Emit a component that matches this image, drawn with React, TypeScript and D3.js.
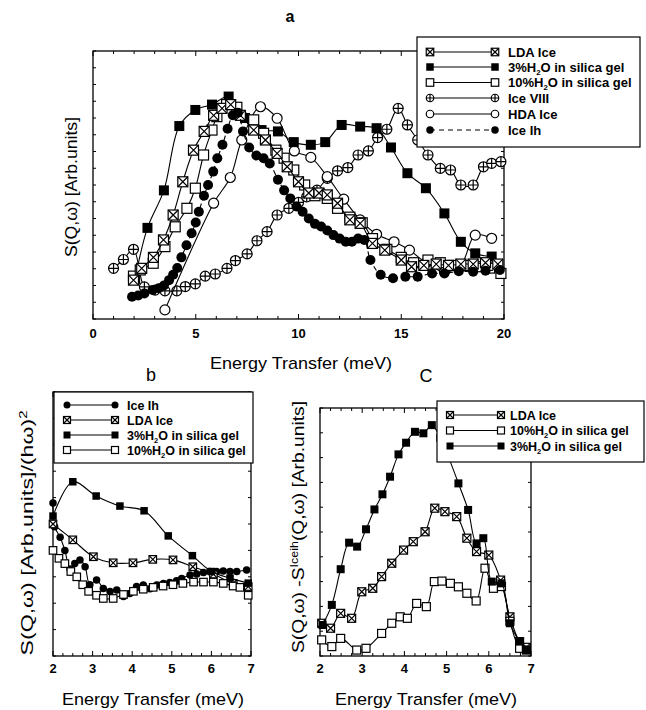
import React from 'react';
import * as d3 from 'd3';

const FONT = '"Liberation Sans", Arial, Helvetica, sans-serif';

type Pt = [number, number];

// ---------- Panel a (x: Energy transfer meV, y: arbitrary units 0..100) ----------
const A_X_TICKS = [0, 5, 10, 15, 20];
const A_3PCT: Pt[] = [[2.05, 15], [2.65, 34], [3.45, 48], [4.2, 72], [4.98, 78], [5.79, 80], [6.6, 83], [7.4, 75], [8.2, 70.5], [9.0, 70], [9.77, 66], [10.6, 65], [11.3, 66], [12.1, 72.4], [13.0, 71.8], [13.8, 71.2], [14.5, 64], [15.3, 54.4], [16.2, 48.8], [17.1, 39.4], [17.9, 28.8], [18.6, 24.5], [19.4, 23.3]];
const A_LDA: Pt[] = [[1.97, 14.5], [2.37, 18.9], [2.94, 23], [3.43, 29.5], [3.9, 38.8], [4.37, 51.2], [4.89, 63], [5.41, 70], [5.87, 76], [6.28, 78.6], [6.7, 80], [7.17, 76], [7.82, 70.5], [8.39, 66.8], [8.96, 61.8], [9.45, 56.8], [10.0, 51.2], [10.5, 47], [11.0, 47], [11.4, 46.3], [11.9, 43.2], [12.5, 37], [13.0, 35.7], [13.6, 28.2], [14.2, 25.7], [15.0, 22], [15.5, 19.5], [16.1, 20], [16.7, 20.5], [17.3, 20], [17.9, 20.5], [18.5, 20.5], [19.1, 21], [19.7, 20.5]];
const A_10PCT: Pt[] = [[1.97, 16], [2.3, 18.3], [2.93, 20.8], [3.5, 27], [4.0, 34.4], [4.57, 41.3], [4.98, 48.8], [5.38, 61.2], [5.79, 70.5], [6.03, 75.5], [6.5, 80], [7.0, 79], [7.82, 74.3], [8.3, 69.3], [8.9, 63], [9.3, 60], [9.77, 55.6], [10.3, 50], [10.8, 46], [11.4, 45], [11.9, 41.3], [12.5, 38], [13.1, 35.9], [13.6, 30], [14.3, 26], [15.0, 23], [15.6, 21], [16.3, 22], [16.9, 21], [17.5, 20], [18.1, 20], [18.7, 19.5], [19.3, 19], [19.85, 17]];
const A_VIII: Pt[] = [[1.0, 18.9], [1.48, 22.2], [1.97, 26], [2.5, 12], [3.02, 10.8], [3.5, 10.5], [4.08, 10.5], [4.49, 12.1], [4.98, 13.1], [5.46, 16], [5.95, 16.8], [6.52, 18.9], [6.93, 21.8], [7.5, 24.3], [7.98, 29.2], [8.47, 32.6], [8.96, 38.8], [9.53, 41.3], [10.0, 43.5], [10.4, 45.6], [10.9, 48.1], [11.4, 52.5], [11.9, 55.3], [12.4, 56.5], [12.9, 61.2], [13.4, 62.7], [13.85, 67.7], [14.3, 70.8], [14.85, 78.6], [15.3, 72.4], [15.8, 66.8], [16.3, 61.2], [16.9, 56.2], [17.4, 55.6], [17.9, 50], [18.5, 50], [19.0, 56.8], [19.4, 58.1], [19.85, 58.7]];
const A_HDA: Pt[] = [[3.5, 3.4], [5.87, 43.2], [6.68, 52.8], [7.24, 66.8], [8.15, 79.2], [8.96, 74.9], [9.8, 62.7], [10.6, 60.3], [11.4, 53.1], [12.2, 44.7], [13.0, 37], [13.8, 31.6], [14.65, 28.8], [15.4, 25.7], [16.2, 21], [17.1, 17.6], [17.9, 20.1], [18.6, 31.3], [19.4, 30.1]];
const A_IH: Pt[] = [[1.9, 8.3], [2.2, 8.8], [2.5, 9.5], [2.9, 10.8], [3.2, 11.5], [3.45, 12.5], [3.7, 14.5], [3.9, 16.5], [4.1, 19], [4.3, 23], [4.55, 27.5], [4.8, 32], [5.0, 36], [5.15, 40], [5.4, 46], [5.6, 50], [5.85, 55], [6.05, 60], [6.3, 65], [6.55, 71], [6.8, 76], [7.05, 77], [7.3, 70], [7.6, 64], [7.95, 61], [8.3, 60], [8.6, 58], [9.0, 52], [9.3, 48], [9.6, 45], [9.9, 42], [10.2, 40], [10.5, 37.5], [10.8, 35.5], [11.1, 34.5], [11.4, 33], [11.7, 31.3], [12.0, 30], [12.3, 28.8], [12.6, 28.8], [12.9, 30], [13.2, 29.5], [13.5, 22], [14.0, 16.5], [14.6, 15.2], [15.2, 15.8], [15.8, 15.8], [16.5, 17], [17.1, 17], [17.8, 17.8], [18.5, 17.6], [19.1, 18], [19.8, 18.3]];

// ---------- Panel b ----------
const BC_X_TICKS = [2, 3, 4, 5, 6, 7];
const B_IH: Pt[] = [[2.0, 58], [2.04, 49], [2.18, 45], [2.3, 40], [2.43, 33], [2.55, 35], [2.68, 36.4], [2.81, 33.8], [2.93, 27], [3.1, 28.8], [3.27, 25.6], [3.44, 24.4], [3.61, 25], [3.78, 22.5], [3.94, 23.7], [4.11, 26.3], [4.28, 26.9], [4.45, 25.5], [4.62, 26.9], [4.79, 27.5], [4.95, 27.8], [5.12, 28.5], [5.25, 29.4], [5.46, 30.7], [5.63, 31.1], [5.8, 31.6], [5.96, 32], [6.13, 32], [6.3, 32.2], [6.47, 32], [6.64, 32], [6.89, 32.6]];
const B_LDA: Pt[] = [[2.0, 50], [2.5, 44], [3.02, 37.6], [3.52, 35.3], [4.02, 35.3], [4.52, 36.6], [5.03, 36.4], [5.53, 33.8], [6.05, 31], [6.55, 27.5], [6.93, 26.3]];
const B_3PCT: Pt[] = [[2.0, 53], [2.5, 66], [3.09, 60.6], [3.69, 56.8], [4.3, 55], [4.91, 45.5], [5.52, 38], [6.0, 32], [6.47, 29.5], [6.93, 27.6]];
const B_10PCT: Pt[] = [[2.0, 40], [2.15, 37], [2.3, 35], [2.45, 32], [2.6, 30], [2.75, 27], [2.9, 24.5], [3.1, 23], [3.27, 21.8], [3.52, 21.8], [3.78, 23.3], [4.03, 24.5], [4.28, 25.3], [4.53, 26], [4.78, 26.5], [5.03, 27], [5.28, 27.5], [5.55, 28], [5.8, 28], [6.05, 28], [6.3, 27.5], [6.55, 26.5], [6.72, 26], [6.93, 23]];

// ---------- Panel c ----------
const C_LDA: Pt[] = [[2.04, 13.2], [2.25, 11.2], [2.49, 17.2], [2.75, 15.2], [2.99, 25.9], [3.25, 27.3], [3.46, 32], [3.7, 37.4], [3.98, 42.7], [4.21, 46.1], [4.49, 50.1], [4.72, 59.6], [4.96, 58.2], [5.24, 56.2], [5.48, 47.5], [5.71, 42.1], [6.0, 40.7], [6.28, 30.6], [6.5, 15.8], [6.73, 5.8], [6.89, 3.5]];
const C_10PCT: Pt[] = [[2.04, 6.5], [2.28, 3.8], [2.49, 7.1], [2.87, 2.4], [3.09, 3.1], [3.46, 9.1], [3.7, 13.2], [3.9, 15.8], [4.07, 15.2], [4.29, 21.2], [4.52, 19.9], [4.71, 30], [4.89, 30.2], [5.09, 29.3], [5.28, 27.9], [5.48, 25.3], [5.7, 22.2], [5.91, 35.4], [6.11, 27.3], [6.3, 28], [6.5, 14], [6.73, 3.1], [6.89, 2.4]];
const C_3PCT: Pt[] = [[2.06, 12.5], [2.28, 20.6], [2.49, 35], [2.69, 45.7], [2.88, 44.1], [3.09, 51.1], [3.29, 59.1], [3.48, 65.2], [3.66, 72.3], [3.86, 81.3], [4.04, 86], [4.25, 90.4], [4.45, 89.8], [4.65, 93.1], [4.85, 88], [5.05, 80], [5.28, 69.6], [5.51, 58.9], [5.71, 45.4], [5.87, 47.5], [6.07, 30], [6.3, 29.3], [6.5, 13.2], [6.73, 5.8], [6.89, 2.4]];

// series names
const N_LDA = 'LDA Ice';
const N_3 = '3%H2O in silica gel';
const N_10 = '10%H2O in silica gel';
const N_VIII = 'Ice VIII';
const N_HDA = 'HDA Ice';
const N_IH = 'Ice Ih';

type MType = 'fsq' | 'osq' | 'xsq' | 'fci' | 'oci' | 'pci';

function Marker({ t, x, y, s }: { t: MType; x: number; y: number; s: number }) {
  const h = s / 2;
  const sw = 1.2;
  if (t === 'fsq') return <rect x={x - h} y={y - h} width={s} height={s} fill="#000" />;
  if (t === 'osq') return <rect x={x - h} y={y - h} width={s} height={s} fill="#fff" stroke="#000" strokeWidth={sw} />;
  if (t === 'xsq')
    return (
      <g>
        <rect x={x - h} y={y - h} width={s} height={s} fill="#fff" stroke="#000" strokeWidth={sw} />
        <path d={`M${x - h},${y - h}L${x + h},${y + h}M${x + h},${y - h}L${x - h},${y + h}`} stroke="#000" strokeWidth={sw} />
      </g>
    );
  if (t === 'fci') return <circle cx={x} cy={y} r={h} fill="#000" />;
  if (t === 'oci') return <circle cx={x} cy={y} r={h} fill="#fff" stroke="#000" strokeWidth={sw} />;
  return (
    <g>
      <circle cx={x} cy={y} r={h} fill="#fff" stroke="#000" strokeWidth={sw} />
      <path d={`M${x - h},${y}L${x + h},${y}M${x},${y - h}L${x},${y + h}`} stroke="#000" strokeWidth={sw} />
    </g>
  );
}

type SeriesDef = { name: string; data: Pt[]; t: MType; dashed?: boolean };

function Series({ def, xs, ys, size }: { def: SeriesDef; xs: any; ys: any; size: number }) {
  const line = d3
    .line<Pt>()
    .x((d) => xs(d[0]))
    .y((d) => ys(d[1]))
    .curve(d3.curveCatmullRom.alpha(0.5));
  return (
    <g>
      <path d={line(def.data) || ''} fill="none" stroke="#000" strokeWidth={1.1} strokeDasharray={def.dashed ? '5,3' : undefined} />
      {def.data.map((d, i) => (
        <Marker key={i} t={def.t} x={xs(d[0])} y={ys(d[1])} s={size} />
      ))}
    </g>
  );
}

function Label({ name }: { name: string }) {
  const i = name.indexOf('H2O');
  if (i < 0) return <>{name}</>;
  return (
    <>
      {name.slice(0, i + 1)}
      <tspan dy={3} fontSize="0.6em">2</tspan>
      <tspan dy={-3}>{name.slice(i + 2)}</tspan>
    </>
  );
}

function Frame({ xs, ys, xTicks, xMinorStep, yStep, labelY }: { xs: any; ys: any; xTicks: number[]; xMinorStep: number; yStep: number; labelY: number }) {
  const [x0, x1] = xs.range();
  const [y0, y1] = ys.range(); // y0 bottom, y1 top
  const [d0, d1] = xs.domain();
  const minors: number[] = [];
  for (let v = d0; v <= d1 + 1e-9; v += xMinorStep) minors.push(+v.toFixed(4));
  const yt: number[] = [];
  for (let v = 0; v <= 100 + 1e-9; v += yStep) yt.push(v);
  const ticks: string[] = [];
  minors.forEach((v) => {
    const isMajor = xTicks.some((t) => Math.abs(t - v) < 1e-6);
    const L = isMajor ? 5 : 3;
    const px = xs(v);
    ticks.push(`M${px},${y0}v${-L}M${px},${y1}v${L}`);
  });
  yt.forEach((v) => {
    const py = ys(v);
    ticks.push(`M${x0},${py}h3M${x1},${py}h-3`);
  });
  return (
    <g>
      <rect x={x0} y={y1} width={x1 - x0} height={y0 - y1} fill="none" stroke="#000" strokeWidth={1.3} />
      <path d={ticks.join('')} stroke="#000" strokeWidth={1} />
      {xTicks.map((t) => (
        <text key={t} x={xs(t)} y={labelY} textAnchor="middle" fontSize={13} fontWeight="bold" fontFamily={FONT}>
          {t}
        </text>
      ))}
    </g>
  );
}

function Legend({ x, y, w, h, rows, rowY, mx0, mx1, tx, ms, fs }: { x: number; y: number; w: number; h: number; rows: SeriesDef[]; rowY: number[]; mx0: number; mx1: number; tx: number; ms: number; fs: number }) {
  return (
    <g>
      <rect x={x} y={y} width={w} height={h} fill="#fff" stroke="#000" strokeWidth={1.2} />
      {rows.map((r, i) => (
        <g key={r.name}>
          <line x1={mx0} x2={mx1} y1={rowY[i]} y2={rowY[i]} stroke="#000" strokeWidth={1} strokeDasharray={r.dashed ? '5,4' : undefined} />
          <Marker t={r.t} x={mx0} y={rowY[i]} s={ms} />
          <Marker t={r.t} x={mx1} y={rowY[i]} s={ms} />
          <text x={tx} y={rowY[i] + fs * 0.36} fontSize={fs} fontWeight="bold" fontFamily={FONT}>
            <Label name={r.name} />
          </text>
        </g>
      ))}
    </g>
  );
}

export default function App() {
  // panel a scales
  const ax = d3.scaleLinear().domain([0, 20]).range([93, 504]);
  const ay = d3.scaleLinear().domain([0, 100]).range([319, 51]);
  const aSeries: SeriesDef[] = [
    { name: N_VIII, data: A_VIII, t: 'pci' },
    { name: N_HDA, data: A_HDA, t: 'oci' },
    { name: N_3, data: A_3PCT, t: 'fsq' },
    { name: N_10, data: A_10PCT, t: 'osq' },
    { name: N_LDA, data: A_LDA, t: 'xsq' },
    { name: N_IH, data: A_IH, t: 'fci', dashed: true },
  ];
  const aLegend: SeriesDef[] = [
    aSeries[4], aSeries[2], aSeries[3], aSeries[0], aSeries[1], aSeries[5],
  ];

  // panel b
  const bx = d3.scaleLinear().domain([2, 7]).range([53, 251]);
  const by = d3.scaleLinear().domain([0, 100]).range([656, 392]);
  const bSeries: SeriesDef[] = [
    { name: N_IH, data: B_IH, t: 'fci' },
    { name: N_LDA, data: B_LDA, t: 'xsq' },
    { name: N_3, data: B_3PCT, t: 'fsq' },
    { name: N_10, data: B_10PCT, t: 'osq' },
  ];

  // panel c
  const cx = d3.scaleLinear().domain([2, 7]).range([320, 531]);
  const cy = d3.scaleLinear().domain([0, 100]).range([656, 408]);
  const cSeries: SeriesDef[] = [
    { name: N_LDA, data: C_LDA, t: 'xsq' },
    { name: N_10, data: C_10PCT, t: 'osq' },
    { name: N_3, data: C_3PCT, t: 'fsq' },
  ];

  return (
    <svg width={646} height={710} style={{ position: 'absolute', left: 0, top: 0, background: '#fff' }} fontFamily={FONT}>
      <rect x={0} y={0} width={646} height={710} fill="#fff" />
      {/* Panel a */}
      <text x={290} y={22} textAnchor="middle" fontSize={16} fontWeight="bold">a</text>
      <Frame xs={ax} ys={ay} xTicks={A_X_TICKS} xMinorStep={1} yStep={6.25} labelY={338} />
      {aSeries.map((s) => (
        <Series key={s.name} def={s} xs={ax} ys={ay} size={10} />
      ))}
      <Legend x={417} y={37} w={223} h={110} rows={aLegend} rowY={[52, 67, 82.5, 98, 114, 130]} mx0={430} mx1={495} tx={508} ms={7.5} fs={13} />
      <text x={301} y={369} textAnchor="middle" fontSize={17} textLength={182} lengthAdjust="spacingAndGlyphs">Energy Transfer (meV)</text>
      <text transform="translate(71,187) rotate(-90)" textAnchor="middle" dy="0.35em" fontSize={17} textLength={140} lengthAdjust="spacingAndGlyphs">S(Q,ω) [Arb.units]</text>

      {/* Panel b */}
      <text x={151} y={381} textAnchor="middle" fontSize={18}>b</text>
      <Frame xs={bx} ys={by} xTicks={BC_X_TICKS} xMinorStep={0.25} yStep={10} labelY={673} />
      {bSeries.map((s) => (
        <Series key={s.name} def={s} xs={bx} ys={by} size={7.5} />
      ))}
      <Legend x={54} y={392} w={199} h={71} rows={bSeries} rowY={[405, 420, 435, 450]} mx0={67} mx1={115} tx={127} ms={7} fs={12.5} />
      <text x={153} y={705} textAnchor="middle" fontSize={17} textLength={182} lengthAdjust="spacingAndGlyphs">Energy Transfer (meV)</text>
      <text transform="translate(27,533) rotate(-90)" textAnchor="middle" dy="0.35em" fontSize={17} textLength={245} lengthAdjust="spacingAndGlyphs">
        S(Q,ω) [Arb.units]/(hω)<tspan dy={-6} fontSize={11}>2</tspan>
      </text>

      {/* Panel c */}
      <text x={426} y={382} textAnchor="middle" fontSize={18}>C</text>
      <Frame xs={cx} ys={cy} xTicks={BC_X_TICKS} xMinorStep={0.25} yStep={10} labelY={673} />
      {cSeries.map((s) => (
        <Series key={s.name} def={s} xs={cx} ys={cy} size={8} />
      ))}
      <Legend x={437} y={401} w={207} h={61} rows={cSeries} rowY={[415, 430.5, 446]} mx0={450} mx1={501} tx={510} ms={7} fs={12.5} />
      <text x={426} y={705} textAnchor="middle" fontSize={17} textLength={182} lengthAdjust="spacingAndGlyphs">Energy Transfer (meV)</text>
      <text transform="translate(298,527) rotate(-90)" textAnchor="middle" dy="0.35em" fontSize={17} textLength={252} lengthAdjust="spacingAndGlyphs">
        S(Q,ω) -S<tspan dy={-6} fontSize={11}>Iceih</tspan><tspan dy={6}>(Q,ω) [Arb.units]</tspan>
      </text>
    </svg>
  );
}
